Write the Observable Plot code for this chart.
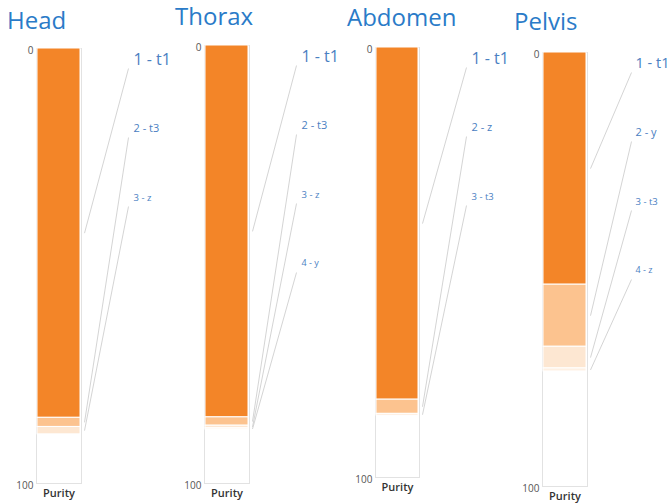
<!DOCTYPE html>
<html><head><meta charset="utf-8">
<script src="https://cdn.jsdelivr.net/npm/d3@7"></script>
<script src="https://cdn.jsdelivr.net/npm/@observablehq/plot@0.6"></script>
<style>
body{margin:0;background:#fff;font-family:"Open Sans",sans-serif;}
#root{position:relative;width:670px;height:504px;overflow:hidden;background:#fff;}
.title{position:absolute;font-size:24px;line-height:24px;color:#2a7bc8;white-space:nowrap;font-family:"Open Sans",sans-serif;}
.panel{position:absolute;top:0;width:170px;height:504px;overflow:visible;}
.panel svg{overflow:visible;max-width:none !important;}
</style></head><body><div id="root"></div>
<script>
// ---- data ----
const panels = ["Head", "Thorax", "Abdomen", "Pelvis"];
const headNames = ["t1", "t3", "z"];
const headValues = [84.9, 2.1, 1.7];
const thoraxNames = ["t1", "t3", "z", "y"];
const thoraxValues = [84.9, 1.9, 0.6, 0.3];
const abdomenNames = ["t1", "z", "t3"];
const abdomenValues = [81.9, 3.3, 0.4];
const pelvisNames = ["t1", "y", "t3", "z"];
const pelvisValues = [53.5, 14.3, 5.0, 0.7];
const axisLabel = "Purity";
const yTicks = [0, 100];

const seriesNames = {Head: headNames, Thorax: thoraxNames, Abdomen: abdomenNames, Pelvis: pelvisNames};
const seriesValues = {Head: headValues, Thorax: thoraxValues, Abdomen: abdomenValues, Pelvis: pelvisValues};

// ---- layout (pixels) ----
const layout = {
  Head:    {barLeft: 36,  barWidth: 45, top: 48, bottom: 483, titleX: 7,   titleBase: 29, textOff: 52, lineOff: 47, big: 16},
  Thorax:  {barLeft: 204, barWidth: 45, top: 45, bottom: 483, titleX: 175, titleBase: 25, textOff: 52, lineOff: 47, big: 16},
  Abdomen: {barLeft: 375, barWidth: 44, top: 47, bottom: 477, titleX: 347, titleBase: 26, textOff: 52, lineOff: 47, big: 16},
  Pelvis:  {barLeft: 542, barWidth: 45, top: 52, bottom: 486, titleX: 514, titleBase: 30, textOff: 48, lineOff: 44, big: 14.5}
};
const W = 170, H = 504, ML = 36;
const rankColors = ["#f38528", "#fcc38f", "#fde7d2", "#fef1e4"];
const rankFont = [16, 11, 9.5, 9];

const root = document.getElementById("root");

for (const p of panels) {
  const L = layout[p];
  const names = seriesNames[p], values = seriesValues[p];
  const ends = d3.cumsum(values);
  const rows = names.map((n, i) => ({
    rank: i + 1, name: n, value: values[i],
    y1: ends[i] - values[i], y2: ends[i], mid: ends[i] - values[i] / 2
  }));
  const pxPerUnit = (L.bottom - L.top) / 100;
  const labelY = r => (11 + 69 * (r - 1)) / pxPerUnit;
  const lineTopY = r => labelY(r) + 9 / pxPerUnit;
  const bw = L.barWidth;
  const xText = 1 + L.textOff / bw, xLineTop = 1 + L.lineOff / bw, xLineBot = 1 + 3 / bw;
  const fontFor = r => r === 1 ? L.big : rankFont[r - 1];

  const chart = Plot.plot({
    width: W, height: H,
    marginLeft: ML, marginRight: W - ML - bw,
    marginTop: L.top, marginBottom: H - L.bottom,
    style: {fontFamily: "Open Sans, sans-serif", background: "transparent", overflow: "visible", maxWidth: "none"},
    x: {domain: [0, 1], axis: null},
    y: {domain: [0, 100], reverse: true, axis: null},
    color: {type: "ordinal", domain: [1, 2, 3, 4], range: rankColors},
    marks: [
      Plot.frame({stroke: "#e2e2e2", strokeWidth: 1}),
      Plot.rectY(rows, {x1: 0, x2: 1, y1: "y1", y2: "y2", fill: "rank", stroke: "white", strokeWidth: 1, insetLeft: 1, insetRight: 1}),
      Plot.link(rows, {x1: xLineBot, y1: "mid", x2: xLineTop, y2: d => lineTopY(d.rank), stroke: "#cfcfcf", strokeWidth: 0.9}),
      Plot.text(rows, {x: xText, y: d => labelY(d.rank), text: d => `${d.rank} - ${d.name}`,
        fontSize: d => fontFor(d.rank), textAnchor: "start", fill: "#4a80c2"}),
      Plot.axisY(yTicks, {tickSize: 0, tickPadding: 3, fontSize: 10, fill: "#555", dy: 2}),
      Plot.text([axisLabel], {x: 0.5, frameAnchor: "bottom", dy: 13, fontSize: 11, fontWeight: 600, fill: "#333"})
    ]
  });
  const div = document.createElement("div");
  div.className = "panel";
  div.style.left = (L.barLeft - ML) + "px";
  div.appendChild(chart);
  root.appendChild(div);

  const t = document.createElement("div");
  t.className = "title";
  t.textContent = p;
  t.style.left = L.titleX + "px";
  t.style.top = (L.titleBase - 21.3) + "px";
  root.appendChild(t);
}
</script></body></html>
